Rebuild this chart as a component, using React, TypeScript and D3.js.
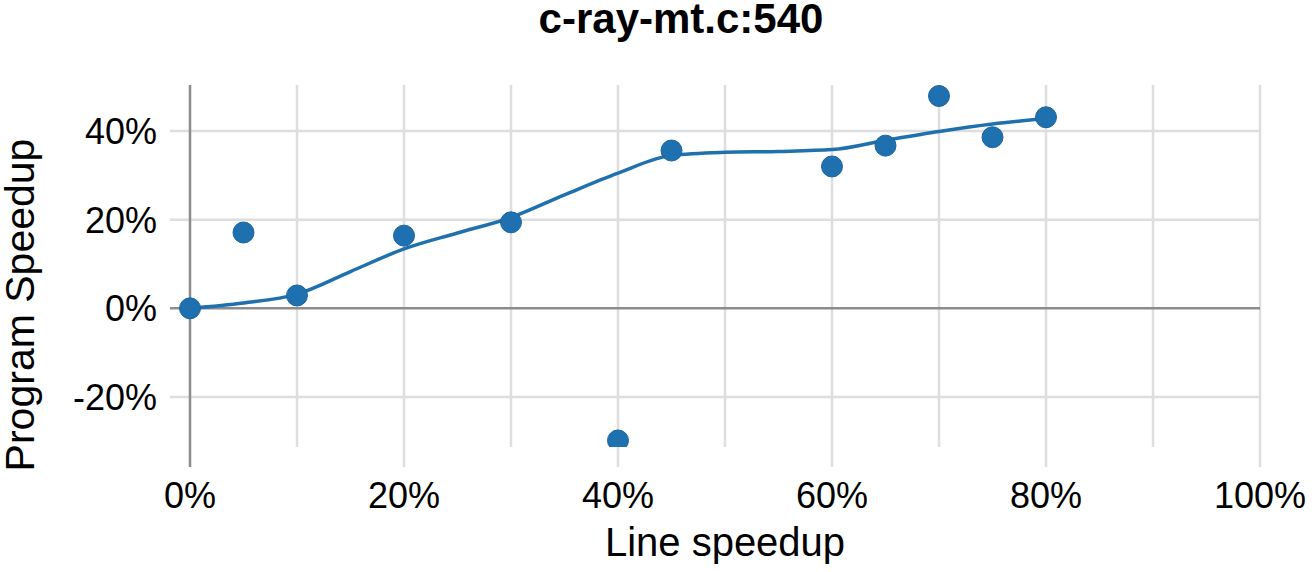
import React from "react";
import * as d3 from "d3";

const title = "c-ray-mt.c:540";
const xLabel = "Line speedup";
const yLabel = "Program Speedup";

// measured points: line speedup vs program speedup
const lineSpeedup = [0, 0.05, 0.1, 0.2, 0.3, 0.4, 0.45, 0.6, 0.65, 0.7, 0.75, 0.8];
const programSpeedup = [0, 0.171, 0.029, 0.164, 0.194, -0.298, 0.356, 0.32, 0.367, 0.479, 0.386, 0.431];

// smoothed fit line
const fitX = [0, 0.05, 0.1, 0.15, 0.2, 0.25, 0.3, 0.35, 0.4, 0.45, 0.5, 0.55, 0.6, 0.65, 0.7, 0.75, 0.8];
const fitY = [0, 0.012, 0.032, 0.083, 0.134, 0.17, 0.205, 0.256, 0.305, 0.345, 0.352, 0.354, 0.358, 0.379, 0.399, 0.416, 0.428];

const xTicks = [0, 0.1, 0.2, 0.3, 0.4, 0.5, 0.6, 0.7, 0.8, 0.9, 1.0];
const xTickLabels = ["0%", "20%", "40%", "60%", "80%", "100%"];
const xLabelTicks = [0, 0.2, 0.4, 0.6, 0.8, 1.0];
const yTicks = [-0.2, 0, 0.2, 0.4];
const yTickLabels = ["-20%", "0%", "20%", "40%"];

const W = 1315;
const H = 572;
const PLOT_TOP = 85;
const PLOT_BOTTOM = 447;
const MAJOR_BOTTOM = 467;
const BLUE = "#1f70ae";
const FONT = "'Liberation Sans', Arial, Helvetica, sans-serif";

export default function App() {
  const x = d3.scaleLinear().domain([0, 1]).range([190, 1260]);
  const y = d3.scaleLinear().domain([-0.2, 0.4]).range([397, 131]);

  const fit = fitX.map((v, i) => [v, fitY[i]] as [number, number]);
  const line = d3
    .line<[number, number]>()
    .x((d) => x(d[0]))
    .y((d) => y(d[1]))
    .curve(d3.curveMonotoneX);

  const isMajor = (t: number) => Math.round(t * 10) % 2 === 0;

  return (
    <div style={{ position: "absolute", left: 0, top: 0 }}>
      <svg width={W} height={H} style={{ display: "block", background: "#fff" }}>
        <defs>
          <clipPath id="plotclip">
            <rect x={160} y={PLOT_TOP} width={1120} height={PLOT_BOTTOM - PLOT_TOP} />
          </clipPath>
        </defs>
        {/* horizontal grid */}
        {yTicks.map((t) =>
          t === 0 ? null : (
            <line key={"h" + t} x1={170} x2={x(1)} y1={y(t)} y2={y(t)} stroke="#dedede" strokeWidth={2.5} />
          )
        )}
        {/* vertical grid */}
        {xTicks.map((t) =>
          t === 0 ? null : (
            <line
              key={"v" + t}
              x1={x(t)}
              x2={x(t)}
              y1={PLOT_TOP}
              y2={isMajor(t) ? MAJOR_BOTTOM : PLOT_BOTTOM}
              stroke="#dedede"
              strokeWidth={2.5}
            />
          )
        )}
        {/* axes */}
        <line x1={x(0)} x2={x(0)} y1={PLOT_TOP} y2={MAJOR_BOTTOM} stroke="#8c8c8c" strokeWidth={2.5} />
        <line x1={170} x2={x(1)} y1={y(0)} y2={y(0)} stroke="#8c8c8c" strokeWidth={2.5} />

        {/* data */}
        <g clipPath="url(#plotclip)">
          <path d={line(fit) || ""} fill="none" stroke={BLUE} strokeWidth={3.5} />
          {lineSpeedup.map((v, i) => (
            <circle key={"p" + i} cx={x(v)} cy={y(programSpeedup[i])} r={10.5} fill={BLUE} stroke="#1a64a0" strokeWidth={1} />
          ))}
        </g>

        {/* tick labels */}
        {yTicks.map((t, i) => (
          <text
            key={"yl" + t}
            x={157}
            y={y(t)}
            dy="0.36em"
            textAnchor="end"
            fontFamily={FONT}
            fontSize={36}
            fill="#000"
          >
            {yTickLabels[i]}
          </text>
        ))}
        {xLabelTicks.map((t, i) => (
          <text
            key={"xl" + t}
            x={x(t)}
            y={508}
            textAnchor="middle"
            fontFamily={FONT}
            fontSize={36}
            fill="#000"
          >
            {xTickLabels[i]}
          </text>
        ))}

        {/* titles */}
        <text x={681} y={33} textAnchor="middle" fontFamily={FONT} fontSize={42} fontWeight="bold" fill="#000">
          {title}
        </text>
        <text x={(x(0) + x(1)) / 2} y={556} textAnchor="middle" fontFamily={FONT} fontSize={40} fill="#000">
          {xLabel}
        </text>
        <text
          transform={`translate(34, 305) rotate(-90)`}
          textAnchor="middle"
          fontFamily={FONT}
          fontSize={41}
          fill="#000"
        >
          {yLabel}
        </text>
      </svg>
    </div>
  );
}
